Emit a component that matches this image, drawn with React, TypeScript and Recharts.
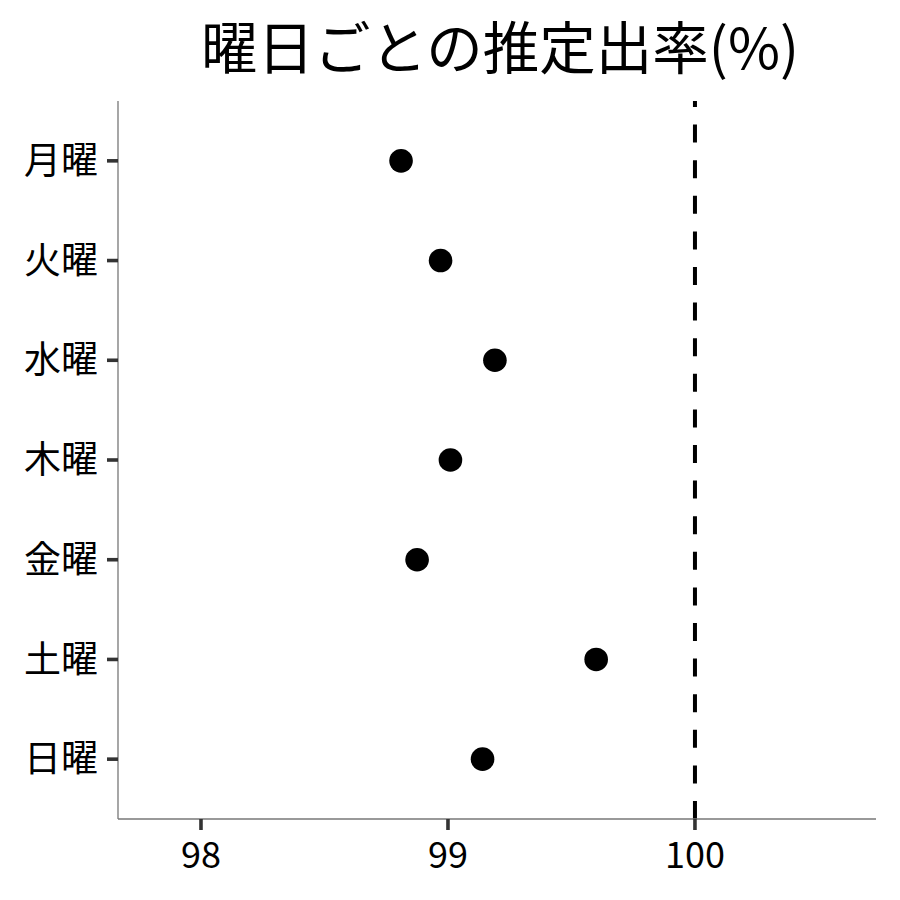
import React from 'react';
import { ScatterChart, Scatter, XAxis, YAxis, ReferenceLine } from 'recharts';

const days = ['月曜', '火曜', '水曜', '木曜', '金曜', '土曜', '日曜'];
const rates = [98.81, 98.97, 99.19, 99.01, 98.875, 99.6, 99.14];
const xTicks = [98, 99, 100];
const referenceRate = 100;

const data = days.map((day, i) => ({ day, pos: i + 1, rate: rates[i] }));
const yTicks = days.map((_, i) => i + 1);

const FONT = '"Noto Sans CJK JP", "Noto Sans", sans-serif';

const Dot = (props: any) => <circle cx={props.cx} cy={props.cy} r={11.8} fill="#000" />;

export default function App() {
  return (
    <div style={{ position: 'absolute', left: 0, top: 0, width: 900, height: 900, background: '#fff', fontFamily: FONT }}>
      <div
        style={{
          position: 'absolute',
          left: 121,
          width: 758,
          top: 4,
          textAlign: 'center',
          fontSize: 56.5,
          lineHeight: '80px',
          color: '#000',
          fontFamily: FONT,
          whiteSpace: 'nowrap',
        }}
      >
        曜日ごとの推定出率(%)
      </div>
      <ScatterChart width={900} height={900} margin={{ top: 101, right: 24, bottom: 0, left: 0 }}>
        <XAxis
          type="number"
          dataKey="rate"
          domain={[97.664, 100.733]}
          allowDataOverflow
          ticks={xTicks}
          interval={0}
          height={81}
          tickSize={11}
          tickMargin={12}
          axisLine={{ stroke: '#777', strokeWidth: 1.3 }}
          tickLine={{ stroke: '#333', strokeWidth: 3.6 }}
          tick={{ fill: '#000', fontSize: 36, fontFamily: FONT }}
        />
        <YAxis
          type="number"
          dataKey="pos"
          domain={[0.4, 7.6]}
          reversed
          allowDataOverflow
          ticks={yTicks}
          interval={0}
          width={118}
          tickSize={11}
          tickMargin={9}
          tickFormatter={(v: number) => days[v - 1]}
          axisLine={{ stroke: '#777', strokeWidth: 1.3 }}
          tickLine={{ stroke: '#333', strokeWidth: 3.6 }}
          tick={{ fill: '#000', fontSize: 37, fontFamily: FONT }}
        />
        <ReferenceLine
          x={referenceRate}
          stroke="#000"
          strokeWidth={4}
          strokeDasharray="18 17.6"
        />
        <Scatter data={data} shape={Dot} isAnimationActive={false} />
      </ScatterChart>
    </div>
  );
}
